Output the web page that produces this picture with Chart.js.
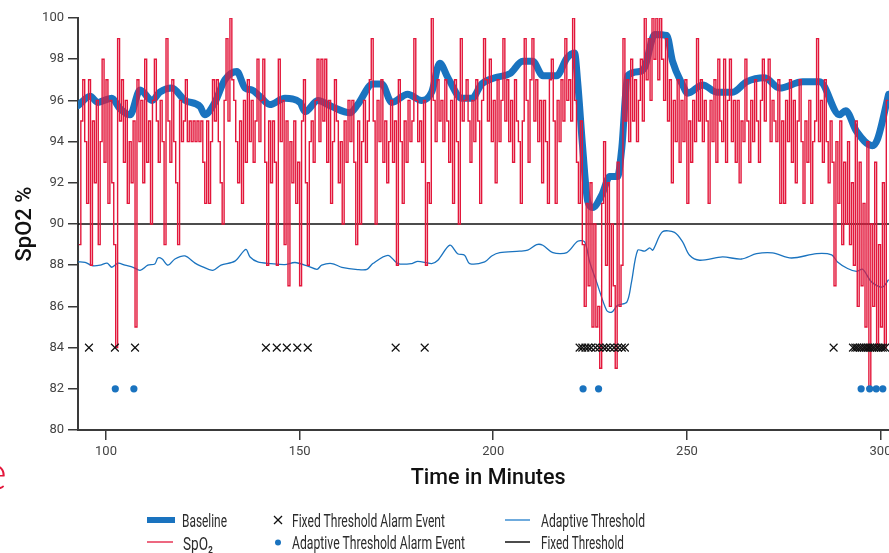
<!DOCTYPE html>
<html>
<head>
<meta charset="utf-8">
<script src="https://cdn.jsdelivr.net/npm/chart.js@4.4.1/dist/chart.umd.min.js"></script>
<style>
  html, body { margin: 0; padding: 0; background: #ffffff; width: 889px; height: 553px; overflow: hidden; }
  #wrap { position: relative; width: 889px; height: 553px; overflow: hidden; }
  #c { position: absolute; left: 0; top: 0; }
  #legend { position: absolute; left: 0; top: 0; pointer-events: none; }
</style>
</head>
<body>
<div id="wrap">
<canvas id="c" width="905" height="553"></canvas>
<svg id="legend" width="889" height="553" xmlns="http://www.w3.org/2000/svg"></svg>
</div>
<script>
// ---------------- DATA ----------------
const xTickValues = [100, 150, 200, 250, 300];
const yTickMin = 80, yTickMax = 100, yTickStep = 2;
const fixedThresholdValue = 90;

// SpO2 readings (integer %), one every 0.5 minute starting at minute 93
const spo2Start = 93;
const spo2Step = 0.5;
const spo2Values = [
  89, 95, 97, 94, 91, 97, 88, 95, 92, 96, 89, 94, 98, 93, 97, 91, 96, 92, 89, 84,
  99, 95, 97, 93, 96, 91, 94, 92, 95, 85, 97, 94, 96, 92, 98, 93, 95, 90, 96, 98,
  95, 93, 96, 94, 89, 99, 95, 93, 97, 94, 92, 89, 96, 94, 95, 97, 94, 95, 94, 95,
  94, 95, 94, 95, 93, 91, 95, 91, 94, 97, 95, 97, 94, 92, 90, 96, 99, 95, 100, 97,
  96, 94, 92, 95, 91, 96, 93, 97, 94, 96, 93, 95, 98, 94, 96, 98, 93, 88, 95, 92,
  95, 93, 88, 98, 94, 96, 89, 95, 87, 94, 92, 95, 91, 93, 87, 95, 97, 92, 88, 94,
  95, 93, 96, 98, 94, 98, 95, 98, 93, 96, 91, 94, 97, 95, 92, 94, 90, 95, 93, 96,
  94, 96, 93, 89, 95, 90, 94, 96, 93, 95, 97, 99, 95, 90, 96, 94, 97, 93, 95, 92,
  94, 96, 93, 95, 88, 97, 94, 91, 95, 93, 96, 94, 95, 99, 96, 94, 95, 93, 96, 88,
  92, 91, 100, 96, 94, 97, 95, 96, 94, 97, 95, 93, 96, 91, 97, 94, 90, 99, 95, 96,
  97, 95, 93, 96, 94, 97, 95, 91, 96, 99, 97, 95, 98, 94, 96, 92, 97, 94, 96, 99,
  95, 97, 94, 96, 93, 97, 95, 94, 91, 95, 99, 96, 93, 97, 99, 95, 97, 94, 96, 92,
  96, 94, 91, 97, 98, 95, 91, 96, 94, 97, 95, 99, 96, 97, 95, 100, 96, 93, 91, 95,
  89, 86, 91, 87, 92, 85, 90, 85, 86, 83, 91, 94, 88, 92, 86, 90, 87, 83, 93, 86,
  88, 99, 95, 97, 94, 98, 95, 97, 94, 96, 98, 95, 100, 97, 99, 96, 100, 98, 100, 97,
  100, 98, 96, 99, 95, 97, 92, 96, 94, 97, 93, 96, 94, 97, 91, 95, 93, 96, 94, 99,
  95, 97, 94, 96, 95, 91, 96, 94, 97, 93, 98, 95, 94, 98, 93, 96, 98, 94, 96, 93,
  96, 92, 95, 94, 98, 95, 93, 96, 94, 97, 95, 93, 96, 98, 95, 97, 98, 94, 96, 95,
  94, 97, 91, 95, 91, 96, 94, 97, 93, 96, 92, 95, 97, 94, 91, 95, 93, 96, 91, 94,
  95, 99, 94, 96, 93, 97, 94, 92, 95, 93, 87, 94, 91, 95, 89, 93, 90, 94, 89, 92,
  88, 95, 86, 93, 87, 91, 85, 94, 82, 90, 86, 93, 84, 89, 85, 92, 84, 96, 96
];

// Baseline (smoothed SpO2)
const baselineTimes = [92.8, 95.9, 97.9, 99.5, 101.5, 103.6, 106.2, 108.8, 111.9, 113.9, 117.0, 120.4, 124.3, 125.5, 128.1, 130.7, 133.8, 135.9, 137.7, 139.7, 142.3, 146.2, 150.1, 151.4, 154.7, 158.3, 163.0, 165.0, 168.9, 171.2, 173.8, 177.9, 181.5, 184.1, 186.2, 188.3, 191.9, 194.5, 197.0, 200.4, 204.3, 207.6, 210.2, 212.8, 216.4, 219.0, 221.0, 221.8, 223.1, 224.4, 225.7, 228.0, 230.1, 232.1, 233.2, 234.7, 237.8, 239.1, 241.7, 244.8, 246.3, 248.9, 250.2, 254.1, 257.7, 261.8, 265.4, 270.1, 273.9, 279.9, 284.3, 289.4, 291.0, 293.8, 297.9, 299.2, 302.1];
const baselineValues = [95.75, 96.2, 95.9, 96.0, 96.1, 95.6, 95.3, 96.5, 96.0, 96.4, 96.6, 96.0, 95.7, 95.3, 95.9, 97.0, 97.4, 96.6, 96.5, 96.2, 95.8, 96.1, 95.9, 95.45, 96.0, 95.7, 95.4, 95.8, 96.8, 96.8, 95.9, 96.3, 96.0, 96.4, 97.8, 97.1, 96.1, 96.1, 96.8, 97.1, 97.3, 97.9, 97.9, 97.2, 97.2, 98.05, 98.3, 96.9, 93.7, 91.1, 90.8, 91.4, 92.3, 92.3, 93.7, 97.2, 97.4, 97.6, 99.2, 99.15, 97.9, 96.75, 96.35, 96.75, 96.4, 96.4, 96.9, 97.1, 96.6, 96.9, 96.9, 95.3, 95.5, 94.5, 93.8, 94.1, 96.3];

// Adaptive threshold
const adaptiveTimes = [92.8, 94.6, 96.4, 98.5, 100.3, 101.5, 103.1, 104.9, 107.0, 108.8, 110.8, 112.6, 113.4, 114.5, 116.0, 117.8, 120.4, 123.0, 124.5, 127.6, 129.7, 133.3, 136.1, 137.2, 139.2, 142.6, 146.2, 148.8, 152.1, 154.5, 155.7, 158.3, 160.9, 165.0, 167.4, 168.9, 172.8, 175.4, 179.0, 180.5, 184.1, 185.7, 188.8, 190.8, 192.6, 193.9, 197.8, 199.6, 201.7, 206.8, 208.9, 211.2, 212.8, 215.4, 219.0, 221.8, 223.6, 224.9, 226.7, 229.3, 230.6, 232.1, 234.5, 235.7, 237.3, 239.1, 240.4, 241.2, 243.7, 246.8, 248.9, 250.7, 253.3, 259.2, 264.1, 268.0, 272.1, 277.0, 283.5, 287.4, 288.9, 291.5, 293.8, 295.4, 297.7, 300.5, 302.1];
const adaptiveValues = [88.16, 88.14, 87.98, 88.0, 88.1, 87.9, 88.1, 88.0, 87.9, 87.75, 88.0, 88.06, 88.35, 88.3, 88.0, 88.3, 88.45, 88.1, 87.96, 87.75, 88.0, 88.2, 88.77, 88.4, 88.16, 88.08, 88.03, 88.13, 87.96, 87.8, 88.0, 88.08, 87.9, 87.79, 87.8, 88.08, 88.48, 88.08, 88.08, 88.19, 88.08, 88.24, 88.97, 88.56, 88.48, 88.08, 88.16, 88.45, 88.61, 88.68, 88.73, 89.0, 88.97, 88.61, 88.61, 89.16, 89.13, 88.16, 87.18, 85.8, 85.72, 86.05, 86.21, 87.18, 88.73, 88.68, 88.84, 88.73, 89.62, 89.59, 89.13, 88.48, 88.24, 88.4, 88.3, 88.56, 88.6, 88.35, 88.56, 88.5, 88.16, 87.84, 87.7, 87.8, 87.18, 86.94, 87.3];

// Alarm events (minute), drawn at a fixed level
const fixedAlarmLevel = 84;
const fixedAlarmTimes = [95.6, 102.3, 107.5, 141.3, 144.1, 146.7, 149.4, 152.1, 174.8, 182.3, 222.3, 223.0, 223.8, 224.5, 225.3, 226.4, 227.4, 228.4, 229.2, 230.2, 231.2, 232.2, 233.2, 234.0, 287.9, 292.9, 293.5, 294.0, 294.6, 295.1, 295.7, 296.2, 296.8, 297.3, 297.9, 298.4, 299.0, 299.5, 300.1, 300.6, 301.2];
const adaptiveAlarmLevel = 82;
const adaptiveAlarmTimes = [102.4, 107.2, 223.2, 227.2, 295.0, 297.2, 298.9, 300.6];

// ---------------- STYLE ----------------
const BLUE = '#1a73bf';
const RED = '#e3173b';
const AXIS = '#3a3a3a';
const xMin = 92.77, xMax = 304.6;

const spo2Points = spo2Values.map((v, i) => ({ x: spo2Start + i * spo2Step, y: v }));
const baselinePoints = baselineTimes.map((t, i) => ({ x: t, y: baselineValues[i] }));
const adaptivePoints = adaptiveTimes.map((t, i) => ({ x: t, y: adaptiveValues[i] }));
const fixedAlarmPoints = fixedAlarmTimes.map(t => ({ x: t, y: fixedAlarmLevel }));
const adaptiveAlarmPoints = adaptiveAlarmTimes.map(t => ({ x: t, y: adaptiveAlarmLevel }));
const fixedLinePoints = [{ x: xMin, y: fixedThresholdValue }, { x: xMax, y: fixedThresholdValue }];

new Chart(document.getElementById('c'), {
  type: 'line',
  data: {
    datasets: [
      { label: 'Fixed Threshold Alarm Event', data: fixedAlarmPoints, showLine: false,
        pointStyle: 'crossRot', pointRadius: 5.5, borderColor: '#111', borderWidth: 1.2, order: 0 },
      { label: 'Adaptive Threshold Alarm Event', data: adaptiveAlarmPoints, showLine: false,
        pointStyle: 'circle', pointRadius: 3.6, backgroundColor: BLUE, borderColor: BLUE, borderWidth: 0, order: 1 },
      { label: 'SpO2', data: spo2Points, stepped: 'before', borderColor: RED, borderWidth: 1.4,
        pointRadius: 0, order: 2 },
      { label: 'Baseline', data: baselinePoints, borderColor: BLUE, borderWidth: 7, tension: 0.4,
        cubicInterpolationMode: 'monotone', pointRadius: 0, borderCapStyle: 'round', borderJoinStyle: 'round', order: 3 },
      { label: 'Adaptive Threshold', data: adaptivePoints, borderColor: BLUE, borderWidth: 1.3,
        tension: 0.3, pointRadius: 0, order: 4 },
      { label: 'Fixed Threshold', data: fixedLinePoints, borderColor: '#111', borderWidth: 1.4,
        pointRadius: 0, order: 5 }
    ]
  },
  options: {
    responsive: false,
    animation: false,
    devicePixelRatio: 1,
    layout: { padding: { top: 18, right: 0, bottom: 0, left: 0 } },
    plugins: { legend: { display: false }, tooltip: { enabled: false } },
    scales: {
      x: {
        type: 'linear', min: xMin, max: xMax,
        afterBuildTicks: (axis) => { axis.ticks = xTickValues.map(v => ({ value: v })); },
        afterFit: (axis) => { axis.height = 123; },
        grid: { drawOnChartArea: false, drawTicks: true, tickLength: 10, color: AXIS, lineWidth: 1.5 },
        border: { display: true, color: AXIS, width: 2 },
        ticks: { color: '#444', font: { family: 'Roboto', size: 13 }, padding: 4, maxRotation: 0 },
        title: { display: true, text: 'Time in Minutes', color: '#111',
          font: { family: 'Roboto', size: 21.5, weight: '500' }, padding: { top: 0, bottom: 61 } }
      },
      y: {
        min: yTickMin, max: yTickMax,
        ticks: { stepSize: yTickStep, color: '#444', font: { family: 'Roboto', size: 13 }, padding: 4 },
        afterFit: (axis) => { axis.width = 78; },
        grid: { drawOnChartArea: false, drawTicks: true, tickLength: 10, color: AXIS, lineWidth: 1.5 },
        border: { display: true, color: AXIS, width: 2 },
        title: { display: true, text: 'SpO2 %', color: '#111',
          font: { family: 'Roboto', size: 22, weight: '500' }, padding: { top: 12, bottom: 0 } }
      }
    }
  }
});

// ---------------- LEGEND (SVG text) ----------------
const NS = 'http://www.w3.org/2000/svg';
const svg = document.getElementById('legend');
function el(tag, attrs, text) {
  const e = document.createElementNS(NS, tag);
  for (const k in attrs) e.setAttribute(k, attrs[k]);
  if (text !== undefined) e.textContent = text;
  svg.appendChild(e);
  return e;
}
const legendFont = "'Liberation Sans Narrow', 'Roboto', sans-serif";
function label(x, y, txt, w) {
  el('text', { x: x, y: y, 'font-family': legendFont, 'font-size': 18, fill: '#2b2b2b',
    'dominant-baseline': 'central', textLength: w, lengthAdjust: 'spacingAndGlyphs' }, txt);
}
// Baseline
el('rect', { x: 147, y: 517, width: 28, height: 6, fill: BLUE });
label(182, 520, 'Baseline', 45);
// SpO2
el('line', { x1: 147, y1: 542, x2: 173, y2: 542, stroke: RED, 'stroke-width': 1.3 });
label(183, 543, 'SpO₂', 30);
// Fixed alarm event
el('line', { x1: 274, y1: 516, x2: 282, y2: 524, stroke: '#111', 'stroke-width': 1.2 });
el('line', { x1: 282, y1: 516, x2: 274, y2: 524, stroke: '#111', 'stroke-width': 1.2 });
label(292, 520, 'Fixed Threshold Alarm Event', 153);
// Adaptive alarm event
el('circle', { cx: 278, cy: 542.5, r: 3, fill: BLUE });
label(292, 542, 'Adaptive Threshold Alarm Event', 173);
// Adaptive threshold
el('line', { x1: 505, y1: 520, x2: 530, y2: 520, stroke: '#3f8fd2', 'stroke-width': 1.5 });
label(541, 520, 'Adaptive Threshold', 104);
// Fixed threshold
el('line', { x1: 505, y1: 542, x2: 530, y2: 542, stroke: '#111', 'stroke-width': 1.5 });
label(541, 542, 'Fixed Threshold', 83);
// stray red glyph at the left edge
el('text', { x: -19, y: 490, 'font-family': 'Lato, sans-serif', 'font-weight': 300, 'font-size': 50, fill: RED }, 'e');
</script>
</body>
</html>
